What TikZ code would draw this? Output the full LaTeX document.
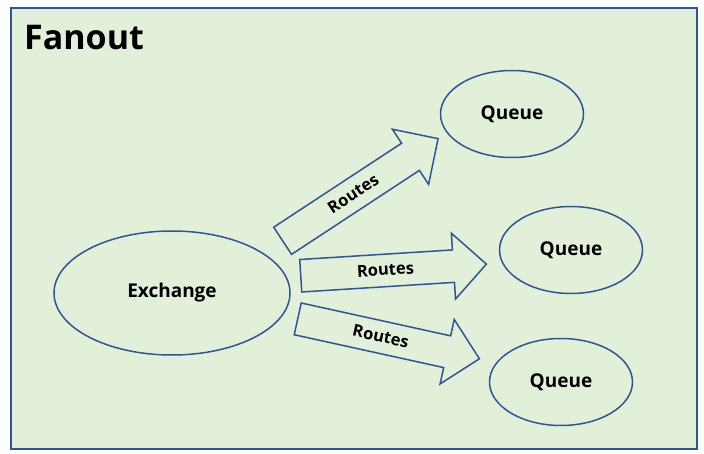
\documentclass[tikz,border=0pt]{standalone}
\usepackage{fontspec}
\setmainfont{Open Sans}
\usetikzlibrary{shapes.geometric,shapes.arrows}
\definecolor{framefill}{HTML}{E2F0D9}
\definecolor{lineblue}{HTML}{2F5597}

\begin{document}
\begin{tikzpicture}[x=1pt, y=-1pt,
          frame/.style   = {draw      = lineblue,
                            line width = 1.5pt,
                            fill      = framefill},
          box/.style     = {ellipse,
                            draw      = lineblue,
                            line width = 1.5pt,
                            inner sep = 0pt,
                            font      = \bfseries\fontsize{19}{22}\selectfont},
          queue/.style   = {box,
                            minimum width  = 143pt,
                            minimum height = 87pt},
          routes/.style  = {single arrow,
                            draw      = lineblue,
                            line width = 1.5pt,
                            anchor    = tail,
                            inner xsep = 0pt,
                            inner ysep = 8.5pt,
                            text height = 12pt,
                            text depth  = 2pt,
                            minimum height = 186pt,
                            single arrow head extend = 16.75pt,
                            font      = \bfseries\fontsize{16.5}{19}\selectfont}]
  \useasboundingbox (0,0) rectangle (704,454);
  \draw[frame] (11,8) rectangle (697,449);
  \node[anchor = base west,
        inner sep = 0pt,
        font   = \bfseries\fontsize{34}{38}\selectfont] (title) at (24,50) {Fanout};

  % exchange and queues
  \node[box, minimum width = 236pt, minimum height = 124pt] (exchange) at (172,293) {Exchange};
  \node[queue] (q1) at (512,114) {Queue};
  \node[queue] (q2) at (571,250) {Queue};
  \node[queue] (q3) at (561,382) {Queue};

  % routing arrows
  \node[routes, rotate = 33.3]  (r1) at (282,241.2) {Routes};
  \node[routes, rotate = 3.6]   (r2) at (300,275.8) {Routes};
  \node[routes, rotate = -12.4] (r3) at (297,318.7) {Routes};
\end{tikzpicture}
\end{document}
